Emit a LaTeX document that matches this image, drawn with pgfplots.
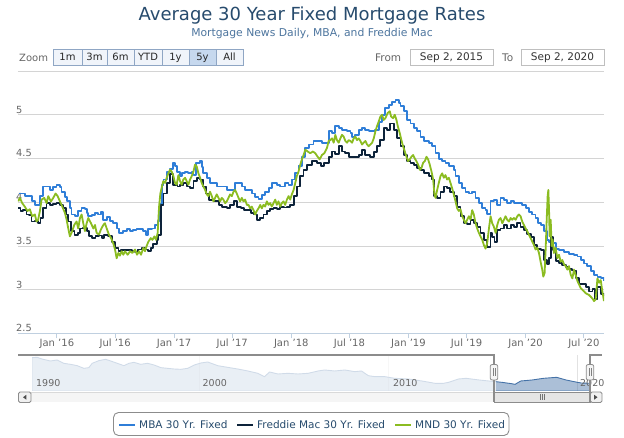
\documentclass[border=0pt]{standalone}
\usepackage{pgfplots}
\pgfplotsset{compat=1.18}
\usepackage{fontspec}
\setmainfont{DejaVu Sans}

\definecolor{mba}{HTML}{2F7ED8}
\definecolor{fred}{HTML}{0D233A}
\definecolor{mnd}{HTML}{8BBC21}
\definecolor{titlec}{HTML}{274B6D}
\definecolor{subc}{HTML}{4D759E}
\definecolor{labc}{HTML}{666666}
\definecolor{gridc}{HTML}{D4D4D4}
\definecolor{axisc}{HTML}{C0D0E0}
\definecolor{navc}{HTML}{4572A7}
\definecolor{navgrid}{HTML}{E2E2E2}
\definecolor{outl}{HTML}{8C8C8C}
\definecolor{btnfill}{HTML}{F0F4FA}
\definecolor{btnsel}{HTML}{C6D8EE}
\definecolor{btnline}{HTML}{8FA6C4}

\newcommand{\fs}[1]{\fontsize{#1}{#1}\selectfont}

\begin{document}
\begin{tikzpicture}
% ---- header: title, range selector (pixel coords, y down) ----
\begin{scope}[x=1pt,y=-1pt,yshift=438pt]
\path[use as bounding box] (0,0) rectangle (624,438);
\node[anchor=base,inner sep=0,text=titlec,font=\fs{18}] at (312,21) {Average 30 Year Fixed Mortgage Rates};
\node[anchor=base,inner sep=0,text=subc,font=\fs{10.8}] at (312,36.5) {Mortgage News Daily, MBA, and Freddie Mac};
\node[anchor=base west,inner sep=0,text=labc,font=\fs{10}] at (19,61.5) {Zoom};
\foreach \a/\b/\t in {53/82/1m,82/107/3m,107/134/6m,134/162/YTD,162/189/1y,216/243/All}{
  \draw[fill=btnfill,draw=btnline,line width=0.8pt] (\a,49.5) rectangle (\b,65.5);
  \node[anchor=base,inner sep=0,font=\fs{10},text=black!85] at ({(\a+\b)/2},61) {\t};
}
\draw[fill=btnsel,draw=btnline,line width=0.8pt] (189,49.5) rectangle (216,65.5);
\node[anchor=base,inner sep=0,font=\fs{10},text=black!85] at (202.5,61) {5y};
\node[anchor=base west,inner sep=0,text=labc,font=\fs{10.5}] at (375,61.5) {From};
\draw[fill=white,draw=black!25,line width=0.8pt] (410,49) rectangle (493,65.5);
\node[anchor=base,inner sep=0,font=\fs{10.5},text=black!80] at (451.5,61) {Sep 2, 2015};
\node[anchor=base west,inner sep=0,text=labc,font=\fs{10.5}] at (502,61.5) {To};
\draw[fill=white,draw=black!25,line width=0.8pt] (521,49) rectangle (604,65.5);
\node[anchor=base,inner sep=0,font=\fs{10.5},text=black!80] at (562.5,61) {Sep 2, 2020};
\end{scope}

% ---- main chart ----
\begin{axis}[
  at={(18pt,104.5pt)}, anchor=south west,
  scale only axis, width=586pt, height=262.5pt,
  xmin=2015.668, xmax=2020.669, ymin=2.5, ymax=5.5,
  axis lines*=left,
  x axis line style={draw=axisc,line width=1pt},
  y axis line style={draw=none},
  ymajorgrids, grid style={draw=gridc,line width=0.9pt},
  ytick={2.5,3,3.5,4,4.5,5,5.5},
  yticklabels={2.5,3,3.5,4,4.5,5,{}},
  ytick style={draw=none},
  yticklabel style={anchor=base west,inner sep=0pt,xshift=3pt,yshift=1.5pt,font=\fs{9.8},text=labc},
  xtick={2016,2016.497,2017,2017.496,2018,2018.496,2019,2019.496,2020,2020.497},
  xticklabels={Jan '16,Jul '16,Jan '17,Jul '17,Jan '18,Jul '18,Jan '19,Jul '19,Jan '20,Jul '20},
  tick align=outside, major tick length=5pt,
  xtick style={draw=axisc,line width=1pt},
  xticklabel style={anchor=base,inner sep=0pt,yshift=-8.5pt,font=\fs{10},text=labc},
  every axis plot/.append style={line width=1.8pt,line join=round},
]
% MBA 30 Yr. Fixed (weekly, step)
\addplot[mba,const plot] coordinates {
(2015.675,4.10)(2015.725,4.07)(2015.785,4.01)(2015.81,3.97)(2015.855,4.07)(2015.88,4.18)
(2015.94,4.14)(2015.97,4.17)(2015.997,4.20)(2016.025,4.17)(2016.04,4.12)(2016.07,4.06)
(2016.085,4.01)(2016.11,3.93)(2016.125,3.86)(2016.155,3.84)(2016.18,3.90)(2016.21,3.93)
(2016.24,3.92)(2016.255,3.88)(2016.268,3.84)(2016.30,3.85)(2016.325,3.88)(2016.35,3.86)
(2016.375,3.89)(2016.396,3.80)(2016.425,3.83)(2016.455,3.79)(2016.481,3.76)(2016.51,3.70)
(2016.53,3.65)(2016.567,3.67)(2016.595,3.69)(2016.624,3.67)(2016.652,3.68)(2016.68,3.69)
(2016.71,3.69)(2016.738,3.67)(2016.761,3.63)(2016.78,3.69)(2016.809,3.70)(2016.838,3.74)
(2016.860,3.79)(2016.875,3.98)(2016.895,4.20)(2016.909,4.26)(2016.937,4.35)(2016.965,4.38)
(2016.994,4.45)(2017.008,4.41)(2017.022,4.35)(2017.051,4.30)(2017.065,4.33)(2017.094,4.35)
(2017.12,4.33)(2017.15,4.35)(2017.165,4.31)(2017.188,4.45)(2017.22,4.47)(2017.236,4.40)
(2017.250,4.33)(2017.28,4.28)(2017.307,4.22)(2017.336,4.22)(2017.364,4.18)(2017.41,4.18)
(2017.450,4.14)(2017.49,4.14)(2017.521,4.22)(2017.55,4.22)(2017.58,4.18)(2017.607,4.14)
(2017.636,4.14)(2017.664,4.10)(2017.692,4.06)(2017.72,4.04)(2017.75,4.08)(2017.778,4.12)
(2017.807,4.16)(2017.835,4.22)(2017.877,4.20)(2017.906,4.18)(2017.948,4.22)(2017.977,4.20)
(2018.005,4.26)(2018.034,4.33)(2018.062,4.41)(2018.091,4.52)(2018.119,4.62)(2018.148,4.66)
(2018.19,4.70)(2018.235,4.70)(2018.262,4.68)(2018.29,4.68)(2018.319,4.81)(2018.348,4.79)
(2018.376,4.87)(2018.405,4.85)(2018.433,4.83)(2018.476,4.81)(2018.505,4.79)(2018.520,4.75)
(2018.547,4.77)(2018.575,4.83)(2018.604,4.85)(2018.632,4.83)(2018.661,4.81)(2018.69,4.81)
(2018.718,4.83)(2018.746,4.92)(2018.775,5.00)(2018.803,5.08)(2018.832,5.11)(2018.860,5.15)
(2018.889,5.17)(2018.917,5.13)(2018.932,5.10)(2018.960,5.04)(2018.989,4.94)(2019.017,4.90)
(2019.046,4.85)(2019.074,4.81)(2019.103,4.75)(2019.131,4.70)(2019.174,4.68)(2019.202,4.64)
(2019.231,4.56)(2019.259,4.49)(2019.288,4.47)(2019.316,4.45)(2019.345,4.41)(2019.388,4.37)
(2019.402,4.30)(2019.430,4.22)(2019.459,4.16)(2019.487,4.12)(2019.515,4.10)(2019.544,4.12)
(2019.572,4.05)(2019.601,3.99)(2019.629,3.93)(2019.658,3.91)(2019.672,3.87)(2019.701,4.01)
(2019.729,4.03)(2019.758,3.97)(2019.786,4.05)(2019.815,4.03)(2019.843,3.99)(2019.872,4.01)
(2019.900,3.99)(2019.929,3.99)(2019.971,3.97)(2020.000,3.93)(2020.028,3.89)(2020.057,3.86)
(2020.085,3.82)(2020.105,3.76)(2020.128,3.74)(2020.157,3.67)(2020.180,3.57)(2020.200,3.55)
(2020.228,3.53)(2020.256,3.47)(2020.285,3.45)(2020.327,3.43)(2020.370,3.41)(2020.413,3.40)
(2020.442,3.38)(2020.470,3.34)(2020.499,3.30)(2020.527,3.27)(2020.556,3.21)(2020.584,3.17)
(2020.613,3.15)(2020.641,3.13)(2020.669,3.10)
};
% Freddie Mac 30 Yr. Fixed (weekly, step)
\addplot[fred,const plot] coordinates {
(2015.670,3.93)(2015.69,3.90)(2015.71,3.91)(2015.741,3.86)(2015.76,3.85)(2015.783,3.78)
(2015.815,3.79)(2015.84,3.76)(2015.86,3.82)(2015.883,3.93)(2015.912,3.99)(2015.94,3.97)
(2015.97,3.98)(2015.997,3.99)(2016.025,3.97)(2016.054,3.93)(2016.08,3.86)(2016.097,3.78)
(2016.120,3.67)(2016.15,3.63)(2016.18,3.65)(2016.197,3.70)(2016.225,3.71)(2016.255,3.67)
(2016.274,3.61)(2016.30,3.59)(2016.33,3.61)(2016.36,3.62)(2016.385,3.59)(2016.405,3.63)
(2016.435,3.61)(2016.467,3.55)(2016.496,3.48)(2016.525,3.44)(2016.55,3.45)(2016.58,3.45)
(2016.61,3.45)(2016.64,3.44)(2016.667,3.43)(2016.695,3.46)(2016.725,3.48)(2016.75,3.46)
(2016.78,3.44)(2016.80,3.48)(2016.823,3.52)(2016.852,3.57)(2016.866,3.63)(2016.886,3.97)
(2016.909,4.10)(2016.937,4.22)(2016.966,4.32)(2016.99,4.20)(2017.01,4.20)(2017.03,4.18)
(2017.05,4.20)(2017.08,4.22)(2017.108,4.18)(2017.135,4.16)(2017.165,4.24)(2017.193,4.28)
(2017.22,4.26)(2017.245,4.18)(2017.273,4.10)(2017.30,4.03)(2017.336,4.01)(2017.38,3.97)
(2017.407,3.95)(2017.45,3.93)(2017.478,3.97)(2017.51,4.01)(2017.54,3.95)(2017.57,3.93)
(2017.598,3.91)(2017.63,3.91)(2017.655,3.88)(2017.68,3.86)(2017.706,3.80)(2017.735,3.82)
(2017.763,3.86)(2017.79,3.90)(2017.82,3.92)(2017.849,3.93)(2017.877,3.92)(2017.906,3.95)
(2017.935,3.94)(2017.963,3.95)(2017.99,3.97)(2018.020,4.07)(2018.048,4.18)(2018.077,4.30)
(2018.105,4.37)(2018.134,4.43)(2018.177,4.47)(2018.22,4.45)(2018.254,4.41)(2018.28,4.45)
(2018.319,4.52)(2018.348,4.58)(2018.376,4.55)(2018.405,4.64)(2018.433,4.58)(2018.462,4.56)
(2018.490,4.52)(2018.535,4.52)(2018.575,4.54)(2018.604,4.60)(2018.632,4.54)(2018.675,4.52)
(2018.704,4.57)(2018.732,4.64)(2018.760,4.71)(2018.789,4.85)(2018.817,4.83)(2018.846,4.90)
(2018.875,4.83)(2018.903,4.73)(2018.932,4.64)(2018.960,4.54)(2018.989,4.47)(2019.017,4.45)
(2019.046,4.43)(2019.074,4.39)(2019.103,4.37)(2019.131,4.33)(2019.174,4.30)(2019.202,4.26)
(2019.217,4.07)(2019.245,4.05)(2019.274,4.12)(2019.302,4.18)(2019.330,4.16)(2019.358,4.12)
(2019.387,4.07)(2019.415,3.95)(2019.444,3.84)(2019.472,3.76)(2019.50,3.75)(2019.530,3.80)
(2019.558,3.76)(2019.587,3.72)(2019.615,3.65)(2019.644,3.57)(2019.672,3.49)(2019.701,3.65)
(2019.715,3.60)(2019.735,3.55)(2019.758,3.68)(2019.786,3.70)(2019.815,3.74)(2019.843,3.70)
(2019.872,3.74)(2019.900,3.72)(2019.929,3.76)(2019.957,3.72)(2019.986,3.68)(2020.014,3.64)
(2020.043,3.60)(2020.071,3.51)(2020.100,3.47)(2020.128,3.45)(2020.157,3.34)(2020.180,3.29)
(2020.200,3.36)(2020.215,3.60)(2020.235,3.45)(2020.256,3.33)(2020.285,3.31)(2020.313,3.28)
(2020.342,3.26)(2020.370,3.24)(2020.399,3.22)(2020.427,3.13)(2020.456,3.07)(2020.484,3.07)
(2020.513,3.03)(2020.541,2.98)(2020.570,3.01)(2020.590,2.89)(2020.613,3.03)(2020.641,2.95)
(2020.669,2.93)
};
% MND 30 Yr. Fixed (daily)
\addplot[mnd] coordinates {
(2015.670,4.01)(2015.684,4.05)(2015.704,3.99)(2015.726,3.95)(2015.749,3.90)(2015.769,3.92)
(2015.789,3.84)(2015.812,3.86)(2015.826,3.78)(2015.840,3.80)(2015.855,3.90)(2015.869,4.03)
(2015.892,4.05)(2015.912,3.99)(2015.926,4.07)(2015.949,4.01)(2015.969,4.05)(2015.989,4.10)
(2016.006,4.07)(2016.026,4.01)(2016.046,3.95)(2016.068,3.88)(2016.083,3.80)(2016.097,3.70)
(2016.111,3.61)(2016.131,3.67)(2016.148,3.74)(2016.168,3.78)(2016.182,3.70)(2016.197,3.82)
(2016.211,3.86)(2016.225,3.76)(2016.239,3.67)(2016.254,3.76)(2016.268,3.82)(2016.291,3.76)
(2016.311,3.70)(2016.325,3.74)(2016.339,3.65)(2016.359,3.63)(2016.376,3.69)(2016.396,3.74)
(2016.410,3.76)(2016.425,3.70)(2016.444,3.63)(2016.462,3.59)(2016.481,3.53)(2016.496,3.46)
(2016.510,3.36)(2016.524,3.42)(2016.538,3.39)(2016.553,3.44)(2016.567,3.40)(2016.581,3.44)
(2016.604,3.40)(2016.624,3.44)(2016.644,3.42)(2016.667,3.46)(2016.684,3.40)(2016.701,3.44)
(2016.718,3.40)(2016.738,3.48)(2016.752,3.44)(2016.766,3.50)(2016.781,3.55)(2016.801,3.59)
(2016.815,3.57)(2016.832,3.61)(2016.846,3.57)(2016.860,3.65)(2016.872,3.95)(2016.883,4.10)
(2016.900,4.20)(2016.908,4.24)(2016.923,4.22)(2016.937,4.28)(2016.951,4.33)(2016.965,4.37)
(2016.980,4.35)(2016.994,4.30)(2017.008,4.22)(2017.022,4.20)(2017.037,4.31)(2017.051,4.24)
(2017.065,4.20)(2017.079,4.26)(2017.094,4.28)(2017.108,4.24)(2017.122,4.20)(2017.136,4.26)
(2017.151,4.30)(2017.165,4.35)(2017.179,4.43)(2017.193,4.41)(2017.208,4.33)(2017.222,4.28)
(2017.236,4.22)(2017.250,4.18)(2017.265,4.14)(2017.279,4.09)(2017.293,4.07)(2017.307,4.12)
(2017.322,4.07)(2017.336,4.01)(2017.350,4.05)(2017.364,4.09)(2017.379,4.05)(2017.393,4.01)
(2017.407,4.05)(2017.421,4.03)(2017.436,3.99)(2017.450,4.01)(2017.464,4.05)(2017.478,4.09)
(2017.493,4.07)(2017.507,4.12)(2017.521,4.14)(2017.535,4.10)(2017.550,4.05)(2017.564,4.01)
(2017.578,4.05)(2017.592,4.01)(2017.606,4.03)(2017.621,3.97)(2017.635,3.97)(2017.649,3.93)
(2017.663,3.95)(2017.678,3.91)(2017.692,3.86)(2017.706,3.90)(2017.720,3.93)(2017.735,3.97)
(2017.749,3.93)(2017.763,3.97)(2017.777,3.95)(2017.792,4.01)(2017.806,3.97)(2017.820,3.99)
(2017.834,3.95)(2017.849,3.99)(2017.863,4.03)(2017.877,3.97)(2017.891,4.01)(2017.906,3.95)
(2017.920,3.99)(2017.934,4.01)(2017.948,3.97)(2017.963,4.03)(2017.977,4.07)(2017.991,4.03)
(2018.005,4.09)(2018.020,4.14)(2018.034,4.22)(2018.048,4.30)(2018.062,4.35)(2018.077,4.43)
(2018.091,4.49)(2018.105,4.54)(2018.120,4.60)(2018.140,4.58)(2018.162,4.56)(2018.185,4.58)
(2018.205,4.56)(2018.225,4.52)(2018.242,4.49)(2018.262,4.54)(2018.282,4.56)(2018.305,4.62)
(2018.319,4.70)(2018.333,4.71)(2018.348,4.73)(2018.362,4.68)(2018.376,4.77)(2018.390,4.71)
(2018.405,4.68)(2018.419,4.73)(2018.433,4.77)(2018.447,4.75)(2018.462,4.70)(2018.476,4.68)
(2018.490,4.71)(2018.504,4.70)(2018.519,4.68)(2018.533,4.73)(2018.547,4.75)(2018.561,4.71)
(2018.576,4.73)(2018.590,4.70)(2018.604,4.66)(2018.618,4.68)(2018.633,4.70)(2018.647,4.66)
(2018.661,4.64)(2018.675,4.66)(2018.690,4.68)(2018.704,4.73)(2018.718,4.81)(2018.732,4.87)
(2018.746,4.92)(2018.761,4.98)(2018.775,5.00)(2018.789,4.94)(2018.803,4.96)(2018.823,5.02)
(2018.841,5.04)(2018.852,4.98)(2018.869,4.96)(2018.883,5.00)(2018.898,4.94)(2018.909,4.87)
(2018.926,4.79)(2018.940,4.71)(2018.954,4.64)(2018.969,4.58)(2018.983,4.52)(2018.997,4.47)
(2019.011,4.49)(2019.026,4.52)(2019.040,4.54)(2019.054,4.50)(2019.068,4.47)(2019.083,4.43)
(2019.097,4.37)(2019.111,4.39)(2019.125,4.45)(2019.140,4.47)(2019.154,4.52)(2019.168,4.49)
(2019.182,4.43)(2019.197,4.35)(2019.211,4.26)(2019.222,4.09)(2019.231,4.05)(2019.245,4.14)
(2019.259,4.22)(2019.274,4.30)(2019.288,4.33)(2019.302,4.28)(2019.316,4.31)(2019.330,4.26)
(2019.345,4.28)(2019.359,4.22)(2019.373,4.16)(2019.387,4.09)(2019.402,4.01)(2019.416,3.93)
(2019.430,3.90)(2019.444,3.92)(2019.459,3.84)(2019.473,3.80)(2019.487,3.76)(2019.501,3.80)
(2019.516,3.84)(2019.530,3.80)(2019.544,3.91)(2019.558,3.86)(2019.573,3.76)(2019.587,3.70)
(2019.601,3.65)(2019.615,3.61)(2019.630,3.57)(2019.644,3.51)(2019.658,3.47)(2019.672,3.53)
(2019.687,3.70)(2019.701,3.84)(2019.715,3.76)(2019.729,3.72)(2019.744,3.65)(2019.758,3.74)
(2019.772,3.80)(2019.786,3.82)(2019.801,3.76)(2019.815,3.80)(2019.829,3.84)(2019.843,3.80)
(2019.858,3.78)(2019.872,3.82)(2019.886,3.80)(2019.900,3.82)(2019.915,3.80)(2019.929,3.84)
(2019.943,3.86)(2019.957,3.84)(2019.971,3.78)(2019.986,3.74)(2020.000,3.70)(2020.014,3.67)
(2020.028,3.63)(2020.043,3.59)(2020.057,3.55)(2020.071,3.51)(2020.085,3.46)(2020.100,3.48)
(2020.114,3.42)(2020.128,3.32)(2020.142,3.23)(2020.151,3.15)(2020.162,3.19)(2020.171,3.46)
(2020.180,3.80)(2020.188,4.07)(2020.194,4.14)(2020.200,3.91)(2020.205,3.61)(2020.214,3.80)
(2020.222,3.50)(2020.231,3.57)(2020.242,3.42)(2020.256,3.48)(2020.271,3.36)(2020.285,3.40)
(2020.299,3.32)(2020.313,3.34)(2020.328,3.29)(2020.342,3.27)(2020.356,3.23)(2020.370,3.27)
(2020.385,3.17)(2020.399,3.13)(2020.413,3.23)(2020.427,3.17)(2020.442,3.10)(2020.456,3.06)
(2020.470,3.02)(2020.484,3.00)(2020.499,2.98)(2020.513,2.96)(2020.527,2.95)(2020.541,2.94)
(2020.556,2.92)(2020.570,2.90)(2020.584,2.87)(2020.598,2.89)(2020.613,3.13)(2020.627,3.08)
(2020.641,3.11)(2020.655,2.98)(2020.669,2.87)
};
\end{axis}

% ---- navigator ----
\begin{axis}[
  at={(32pt,47pt)}, anchor=south west,
  scale only axis, width=558pt, height=36pt,
  xmin=1991.1, xmax=2020.669, ymin=0.3, ymax=11.1,
  axis line style={draw=none},
  ytick=\empty, xtick={2000,2010,2020}, xticklabels={,,},
  major tick length=0pt,
  xmajorgrids, grid style={draw=navgrid,line width=1pt},
]
\addplot[draw=navc,line width=0.9pt,fill=navc,fill opacity=0.45] coordinates {
(1991.1,10.3)(1991.37,10.4)(1991.63,9.9)(1992.07,9.3)(1992.43,9.6)(1992.78,8.6)
(1993.14,8.3)(1993.49,7.9)(1993.85,7.1)(1994.11,7.3)(1994.29,8.6)(1994.64,9.4)
(1995.0,9.8)(1995.27,9.3)(1995.62,8.6)(1995.97,7.9)(1996.24,8.6)(1996.5,8.9)
(1996.86,8.3)(1997.22,8.6)(1997.57,8.1)(1997.93,7.3)(1998.28,7.1)(1998.63,6.9)
(1998.99,6.8)(1999.35,7.1)(1999.7,8.1)(2000.05,8.7)(2000.41,9.0)(2000.94,7.9)
(2001.47,7.4)(2002.0,6.9)(2002.54,6.3)(2003.07,5.6)(2003.42,4.6)(2003.69,6.0)
(2004.13,5.4)(2004.67,5.6)(2005.2,5.4)(2005.73,5.6)(2006.26,6.3)(2006.61,6.6)
(2007.14,6.3)(2007.68,6.6)(2008.2,6.1)(2008.56,6.3)(2008.92,4.9)(2009.27,4.6)
(2009.8,4.6)(2010.33,4.1)(2011.05,3.9)(2011.76,3.3)(2012.46,2.6)(2012.9,2.6)
(2013.18,2.9)(2013.7,3.9)(2014.1,4.1)(2014.8,3.6)(2015.3,3.3)(2015.67,3.1)
(2016.0,2.9)(2016.5,2.5)(2016.7,2.3)(2017.0,3.3)(2017.6,3.6)(2018.2,4.1)
(2018.9,4.4)(2019.4,3.6)(2020.0,2.9)(2020.2,2.7)(2020.669,2.6)
} \closedcycle;
\fill[white,fill opacity=0.75] (1991.1,0.3) rectangle (2015.668,11.1);
\end{axis}

% ---- navigator outline, handles, scrollbar, legend ----
\begin{scope}[x=1pt,y=-1pt,yshift=438pt]
\foreach \xx/\t in {36/1990,202.5/2000,393/2010,580/2020}
  \node[anchor=base west,inner sep=0,text=labc,font=\fs{9.5}] at (\xx,386.5) {\t};
% scrollbar
\fill[black!4] (31,392) rectangle (591,402.5);
\draw[black!15,line width=0.8pt] (31,392) -- (591,392);
\draw[fill=black!10,draw=black!45,line width=0.8pt] (494,392) rectangle (590,402.5);
\foreach \xx in {540,542.2,544.4} \draw[black!55,line width=0.6pt] (\xx,394.5) -- (\xx,400);
\draw[fill=black!6,draw=black!45,line width=0.8pt,rounded corners=1.5pt] (18.5,392) rectangle (31,402.5);
\fill[black!70] (23,397.25) -- (26.3,394.8) -- (26.3,399.7) -- cycle;
\draw[fill=black!6,draw=black!45,line width=0.8pt,rounded corners=1.5pt] (590.5,392) rectangle (602,402.5);
\fill[black!70] (597.5,397.25) -- (594.2,394.8) -- (594.2,399.7) -- cycle;
% outline
\draw[outl,line width=1.6pt] (18,355) -- (494,355) -- (494,402.5);
\draw[outl,line width=1.6pt] (590,402.5) -- (590,355) -- (602,355);
% handles
\foreach \xx in {494,590}{
  \draw[fill=black!4,draw=black!45,line width=0.8pt,rounded corners=2pt] (\xx-3.8,364.5) rectangle (\xx+3.8,380);
  \draw[black!50,line width=0.6pt] (\xx-1.2,368.5) -- (\xx-1.2,376) (\xx+1.2,368.5) -- (\xx+1.2,376);
}
% legend
\draw[fill=white,draw=black!45,line width=0.9pt,rounded corners=5pt] (113.5,412.5) rectangle (509,435.5);
\draw[mba,line width=2pt] (119,425) -- (135,425);
\node[anchor=base west,inner sep=0,text=titlec,font=\fs{10.5}] at (139,428.5) {MBA 30 Yr. Fixed};
\draw[fred,line width=2pt] (237,425) -- (253,425);
\node[anchor=base west,inner sep=0,text=titlec,font=\fs{10.5}] at (257,428.5) {Freddie Mac 30 Yr. Fixed};
\draw[mnd,line width=2pt] (395,425) -- (411,425);
\node[anchor=base west,inner sep=0,text=titlec,font=\fs{10.5}] at (415,428.5) {MND 30 Yr. Fixed};
\end{scope}
\end{tikzpicture}
\end{document}
